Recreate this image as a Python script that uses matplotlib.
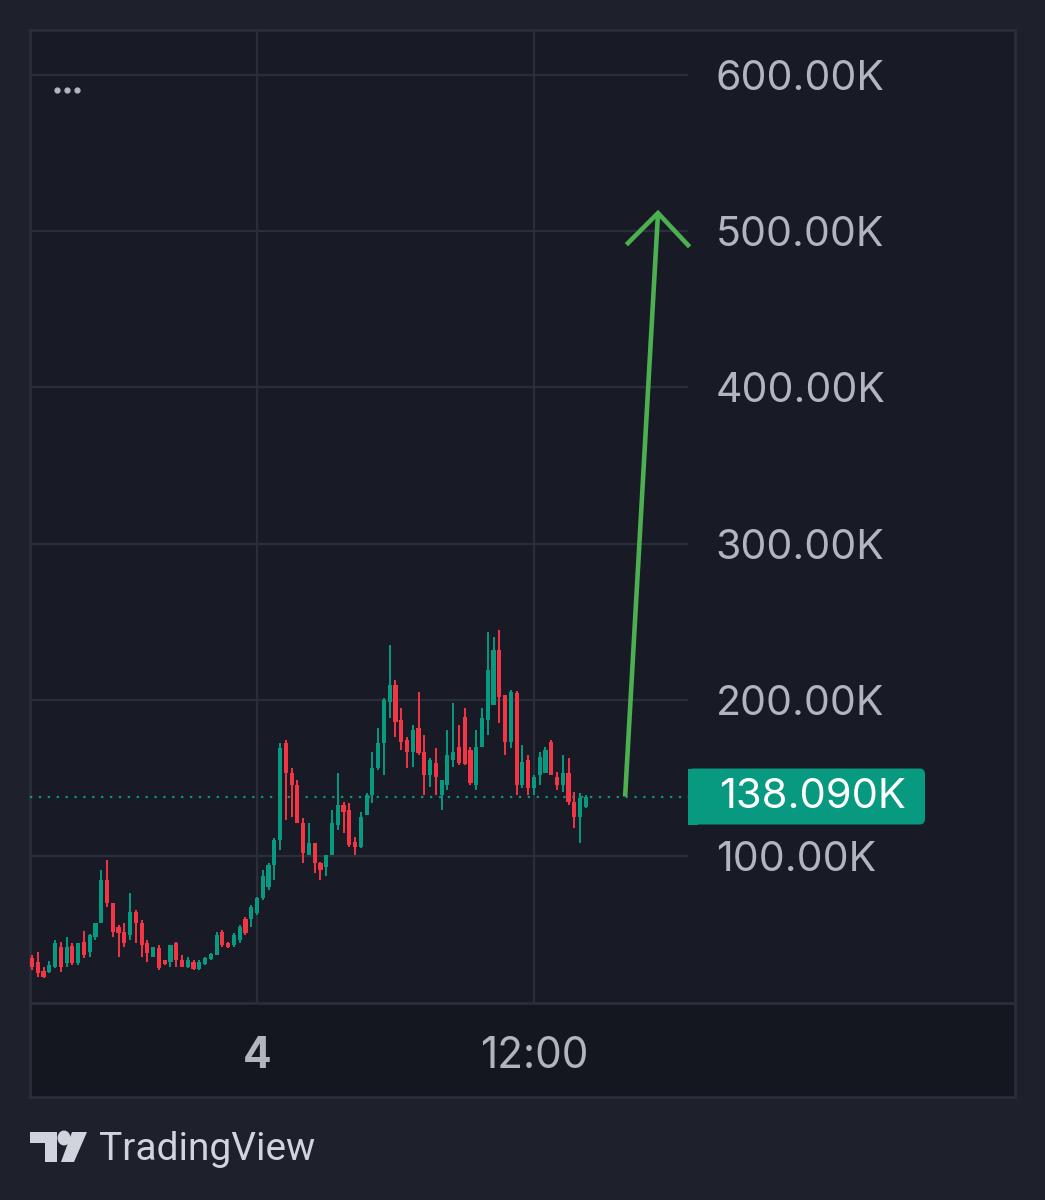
import matplotlib
matplotlib.use("Agg")
import matplotlib.pyplot as plt
from matplotlib.patches import Rectangle, FancyBboxPatch, Polygon, Circle
import matplotlib.transforms as mtransforms
import numpy as np

# ---------------- data (values in thousands) ----------------
opens = [34.7, 32.1, 26.4, 25.8, 28.9, 41.7, 31.5, 42.3, 31.5, 45.0,
         38.5, 48.1, 57.1, 84.6, 70.0, 54.5, 51.4, 49.4, 64.1, 57.1,
         44.3, 35.3, 41.1, 33.4, 32.1, 44.3, 33.4, 28.9, 32.1, 27.6,
         30.9, 34.0, 36.6, 51.4, 44.3, 43.0, 46.2, 59.6, 59.6, 63.7,
         73.1, 80.1, 94.2, 110.2, 172.3, 153.1, 145.4, 121.1, 100.6, 108.3,
         95.5, 93.0, 100.6, 119.8, 132.6, 129.4, 109.0, 105.8, 126.2, 139.1,
         156.3, 172.3, 198.6, 209.5, 187.0, 174.3, 166.6, 181.9, 166.6, 151.8,
         159.5, 139.1, 145.4, 161.5, 169.8, 189.0, 167.8, 145.4, 169.8, 187.0,
         196.6, 231.9, 203.1, 172.9, 204.3, 145.4, 161.5, 143.6, 151.8, 153.1,
         172.9, 150.6, 145.4, 153.1, 134.6, 125.0, 131.4]
highs = [36.6, 38.5, 28.9, 32.8, 46.2, 45.0, 48.1, 44.3, 44.3, 52.0,
         50.1, 57.1, 91.0, 97.4, 70.0, 55.8, 57.1, 76.3, 65.4, 59.0,
         46.2, 41.7, 43.0, 33.4, 43.0, 45.0, 36.6, 35.3, 33.4, 33.4,
         35.3, 37.9, 51.4, 52.6, 45.0, 50.7, 55.8, 61.0, 68.6, 73.8,
         91.0, 95.5, 111.5, 172.3, 174.3, 156.3, 148.7, 124.4, 121.1, 108.3,
         96.2, 100.6, 129.4, 153.1, 134.6, 134.0, 112.2, 128.1, 140.4, 166.6,
         181.9, 201.2, 235.1, 212.7, 194.7, 176.2, 183.8, 205.0, 177.5, 162.7,
         169.1, 148.7, 180.6, 198.0, 183.8, 194.7, 169.8, 180.6, 194.7, 243.4,
         240.2, 244.7, 203.1, 206.3, 205.6, 171.0, 164.7, 151.8, 166.6, 169.8,
         174.3, 153.7, 164.7, 162.7, 141.0, 140.4, 139.1]
lows = [27.0, 22.5, 21.9, 25.1, 28.3, 25.8, 28.9, 30.2, 30.2, 34.7,
        35.3, 46.2, 57.1, 67.4, 48.1, 35.3, 41.7, 46.2, 44.3, 35.3,
        32.1, 35.3, 27.0, 30.2, 28.9, 28.9, 28.9, 28.3, 27.0, 27.0,
        30.2, 33.4, 36.6, 41.7, 41.1, 41.7, 44.3, 49.4, 54.5, 62.4,
        71.8, 78.2, 84.6, 103.8, 123.1, 125.0, 121.1, 95.5, 100.6, 89.1,
        84.6, 87.2, 100.6, 116.7, 114.8, 105.8, 100.6, 105.1, 126.2, 134.0,
        155.0, 151.8, 188.3, 176.2, 167.8, 156.3, 157.0, 164.7, 139.1, 144.3,
        139.1, 129.4, 142.3, 157.0, 158.2, 158.2, 145.4, 142.3, 169.8, 177.5,
        196.6, 185.1, 164.7, 169.1, 139.1, 143.6, 139.1, 139.1, 145.4, 153.1,
        151.8, 142.3, 141.0, 132.6, 117.9, 108.3, 130.8]
closes = [28.9, 25.1, 22.5, 30.2, 44.3, 28.9, 41.7, 31.5, 44.3, 36.6,
          49.4, 57.1, 84.6, 70.0, 51.4, 50.7, 44.3, 64.1, 57.1, 43.0,
          37.9, 41.7, 28.3, 30.9, 43.0, 33.4, 28.9, 33.4, 27.6, 32.1,
          34.7, 37.3, 49.4, 43.0, 41.7, 49.4, 54.5, 50.7, 67.4, 73.1,
          87.2, 94.2, 110.2, 169.1, 153.1, 145.4, 121.1, 101.9, 108.3, 95.5,
          91.0, 100.6, 121.1, 132.6, 128.1, 107.0, 105.8, 125.0, 139.1, 156.3,
          172.3, 199.9, 209.5, 185.7, 172.9, 166.6, 180.6, 166.0, 151.8, 161.5,
          150.6, 148.7, 164.7, 166.6, 159.5, 158.9, 146.7, 169.8, 188.3, 219.1,
          231.9, 201.8, 172.9, 205.0, 145.4, 160.2, 143.6, 150.6, 163.4, 167.8,
          151.8, 145.4, 153.1, 134.6, 125.0, 137.1, 138.09]

last_price = 138.09
price_ticks = [100, 200, 300, 400, 500, 600]
time_tick_pos = [39, 87]
time_tick_labels = ["4", "12:00"]

# projection arrow (candle index, price in K)
arrow_x = [102.8, 108.5]
arrow_y = [138.09, 511.6]
head_x = [103.3, 108.5, 113.7]
head_y = [492.4, 511.6, 491.1]

# ---------------- styling ----------------
W, H = 1045, 1200
OUTER = "#1e212b"
PANEL = "#181b25"
TIMEBG = "#141720"
GRID = "#2a2e39"
UP = "#089981"
DOWN = "#f23645"
TXT = "#b2b5be"
FONT = ["Inter", "DejaVu Sans"]
FS = 29.5

fig = plt.figure(figsize=(W / 100, H / 100), dpi=100, facecolor=OUTER)

def fx(x):
    return x / W

def fy(y):
    return 1 - y / H

# panel background
panel = fig.add_axes([fx(30), fy(1097), fx(1015) - fx(30), fy(30) - fy(1097)])
panel.set_facecolor(PANEL)
panel.set_xticks([]); panel.set_yticks([])
panel.set_xlim(30, 1015); panel.set_ylim(1097, 30)
for s in panel.spines.values():
    s.set_color(GRID); s.set_linewidth(2)
panel.add_patch(Rectangle((30, 1003), 985, 94, facecolor=TIMEBG, edgecolor="none"))
panel.plot([30, 1015], [1003, 1003], color=GRID, lw=2)

# main price axes
ax = fig.add_axes([fx(30), fy(1003), fx(688) - fx(30), fy(30) - fy(1003)])
ax.set_facecolor("none")
n = len(opens)
idx = np.arange(n)
o = np.array(opens); c = np.array(closes); hi = np.array(highs); lo = np.array(lows)
up = c >= o
colors = np.where(up, UP, DOWN)
ax.vlines(idx, lo, hi, colors=colors, lw=1.4, zorder=3)
body_bottom = np.minimum(o, c)
body_h = np.maximum(np.abs(c - o), 0.9)
ax.bar(idx, body_h, bottom=body_bottom, width=0.72, color=colors, zorder=4, linewidth=0)

ax.set_xlim(-0.35, 113.7)
ax.set_ylim(5.9, 628.8)
for s in ax.spines.values():
    s.set_visible(False)

ax.set_yticks(price_ticks)
ax.set_yticklabels([f"{v:.2f}K" for v in price_ticks])
ax.yaxis.tick_right()
ax.tick_params(axis="y", length=0, pad=20, labelsize=FS, labelcolor=TXT)
for t in ax.get_yticklabels():
    t.set_fontfamily(FONT)
ax.set_xticks(time_tick_pos)
ax.set_xticklabels([])
ax.tick_params(axis="x", length=0)
ax.grid(True, color=GRID, lw=1.6, zorder=0)
ax.set_axisbelow(True)

trans_x = mtransforms.blended_transform_factory(ax.transData, ax.transAxes)
for pos, lab in zip(time_tick_pos, time_tick_labels):
    ax.text(pos, (1003 - 1056) / 973, lab, transform=trans_x, ha="center", va="center",
            fontsize=FS + 1, color=TXT, family=FONT,
            fontweight="bold" if lab == "4" else "normal", clip_on=False)

# last price dotted line
ax.axhline(last_price, color=UP, lw=1.6, ls=(0, (1, 3)), zorder=2)

# projection arrow
ax.plot(arrow_x, arrow_y, color="#4caf50", lw=3.3, solid_capstyle="butt", clip_on=False, zorder=6)
ax.plot(head_x, head_y, color="#4caf50", lw=3.3, solid_joinstyle="miter", clip_on=False, zorder=6)

# "..." menu dots
ax.plot([0.041, 0.056, 0.071], [0.938] * 3, "o", color=TXT, ms=3.5, transform=ax.transAxes)

# last price label box
fig.canvas.draw()
y_disp = ax.transData.transform((0, last_price))[1]
y_px = H - y_disp
box = FancyBboxPatch((fx(688), fy(y_px + 28)), fx(925) - fx(688), (56) / H,
                     boxstyle="round,pad=0,rounding_size=0.005", transform=fig.transFigure,
                     facecolor=UP, edgecolor="none", zorder=10)
fig.patches.append(box)
fig.patches.append(Rectangle((fx(688), fy(y_px + 28)), 0.01, 56 / H, transform=fig.transFigure,
                             facecolor=UP, edgecolor="none", zorder=10))
fig.text(fx(719), fy(y_px), f"{last_price:.3f}K", color="white", fontsize=FS + 0.5, family=FONT,
         ha="left", va="center", zorder=11)

# TradingView logo
logo_col = "#d1d4dc"
fig.patches.append(Polygon([(fx(30), fy(1132)), (fx(57), fy(1132)), (fx(57), fy(1162)),
                            (fx(45), fy(1162)), (fx(45), fy(1143)), (fx(30), fy(1143))],
                           closed=True, transform=fig.transFigure, facecolor=logo_col, edgecolor="none"))
fig.patches.append(Circle((fx(64), fy(1138)), 6.5 / W, transform=fig.transFigure,
                          facecolor=logo_col, edgecolor="none"))
fig.patches.append(Polygon([(fx(72), fy(1132)), (fx(87), fy(1132)), (fx(74), fy(1162)),
                            (fx(61), fy(1162))],
                           closed=True, transform=fig.transFigure, facecolor=logo_col, edgecolor="none"))
fig.text(fx(99), fy(1149), "TradingView", color=logo_col, fontsize=28, family=["Roboto", "DejaVu Sans"],
         ha="left", va="center")

fig.savefig("out.png", dpi=100, facecolor=OUTER)
